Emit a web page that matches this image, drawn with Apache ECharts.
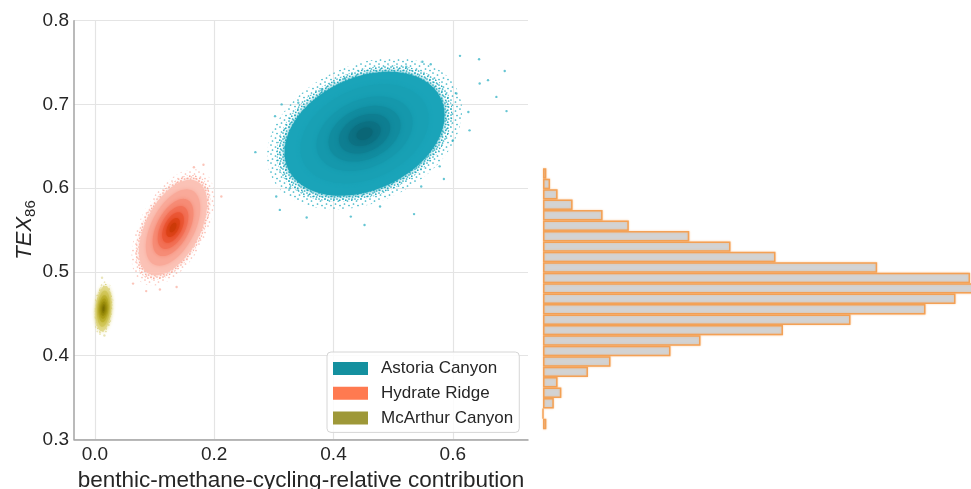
<!DOCTYPE html>
<html>
<head>
<meta charset="utf-8">
<script src="https://cdn.jsdelivr.net/npm/echarts@6/dist/echarts.min.js"></script>
<style>
  html, body { margin: 0; padding: 0; background: #ffffff; }
  #chart { width: 971px; height: 489px; }
</style>
</head>
<body>
<div id="chart"></div>
<script>
// ---- data -------------------------------------------------------------
const sites = ['Astoria Canyon', 'Hydrate Ridge', 'McArthur Canyon'];

// centre of each posterior cloud (relative contribution, TEX86)
const centreX = [0.452, 0.131, 0.0145];
const centreY = [0.665, 0.553, 0.456];
// spread of the dense body of each cloud and its x/y correlation
const spreadX = [0.134, 0.057, 0.0135];
const spreadY = [0.074, 0.057, 0.027];
const correlation = [0.30, 0.50, 0.20];
// density contour levels, relative to the dense body (outer rim -> core)
const contourLevels = [1.22, 1.10, 1.00, 0.80, 0.60, 0.45, 0.32, 0.20, 0.10];

// isolated samples outside the dense clouds
const astoriaStrayX = [0.269, 0.302, 0.313, 0.612, 0.644, 0.687, 0.690, 0.659, 0.626, 0.628, 0.585, 0.535, 0.355, 0.310, 0.563, 0.549, 0.522, 0.578, 0.600, 0.645, 0.673, 0.606, 0.419, 0.380, 0.341, 0.327, 0.304, 0.429, 0.478, 0.547, 0.452];
const astoriaStrayY = [0.643, 0.686, 0.700, 0.758, 0.754, 0.740, 0.692, 0.729, 0.691, 0.669, 0.611, 0.569, 0.565, 0.574, 0.748, 0.751, 0.745, 0.626, 0.657, 0.725, 0.709, 0.713, 0.731, 0.717, 0.702, 0.600, 0.590, 0.566, 0.578, 0.602, 0.556];
const hydrateStrayX = [0.212, 0.064, 0.086, 0.166, 0.137, 0.109, 0.182];
const hydrateStrayY = [0.590, 0.486, 0.477, 0.625, 0.482, 0.479, 0.628];
const mcarthurStrayX = [0.012, 0.016];
const mcarthurStrayY = [0.493, 0.424];

const xTicks = [0.0, 0.2, 0.4, 0.6];

// marginal histogram (top bin first)
const histBins = ['1', '2', '3', '4', '5', '6', '7', '8', '9', '10', '11', '12', '13',
                  '14', '15', '16', '17', '18', '19', '20', '21', '22', '23', '24', '25'];
const histCounts = [8, 17, 35, 71, 143, 206, 351, 450, 558, 802, 1025, 1045, 990,
                    918, 738, 576, 378, 306, 162, 108, 35, 44, 26, 0, 8];

// ---- styles ------------------------------------------------------------
const FONT = '"Liberation Sans", Arial, Helvetica, sans-serif';
const TEXT = '#262626';
const siteColours = ['#14909f', '#ff7a50', '#9e9838'];
const strayColours = ['rgba(30,170,190,0.85)', 'rgba(248,150,130,0.7)', 'rgba(210,200,110,0.6)'];
const rimColours = [
  ['rgba(36,172,192,0.9)', 'rgba(28,166,186,0.95)'],
  ['rgba(250,170,155,0.75)', 'rgba(249,160,143,0.9)'],
  ['rgba(220,212,130,0.7)', 'rgba(214,205,110,0.85)']
];
const bodyColours = [
  ['#1aa4b9', '#18a0b4', '#1598ac', '#118c9f', '#0e7e91', '#0c7183', '#0a6676'],
  ['#fbc2b6', '#f9a999', '#f68c76', '#f27157', '#eb5736', '#dd4318', '#cc3a08'],
  ['#e2da8c', '#d2c75a', '#beb232', '#aea01a', '#9c8e0c', '#887c04', '#7a6e00']
];

// speckled texture for the thinly sampled rim of each cloud
function speckle(colour, size, dots) {
  const c = document.createElement('canvas');
  c.width = size; c.height = size;
  const g = c.getContext('2d');
  g.fillStyle = colour;
  dots.forEach(function (d) {
    g.beginPath(); g.arc(d[0], d[1], 0.85, 0, Math.PI * 2); g.fill();
  });
  return { image: c, repeat: 'repeat' };
}
const sparseDots = [[1, 1], [5.5, 3], [2.5, 6], [7, 7.5]];
const denseDots = [[1, 1], [3.8, 2.2], [1.8, 4.3], [4.6, 5]];
const RIM_COUNT = 2;

const fills = sites.map(function (s, i) {
  return [speckle(rimColours[i][0], 9, sparseDots), speckle(rimColours[i][1], 6, denseDots)]
    .concat(bodyColours[i]);
});

function ellipseRenderer(site) {
  const r = correlation[site];
  const q = Math.sqrt(1 - r * r);
  return function (params, api) {
    const k = api.value(2);
    const pts = [];
    for (let i = 0; i < 96; i++) {
      const t = i / 96 * Math.PI * 2;
      const c = Math.cos(t), s = Math.sin(t);
      pts.push(api.coord([
        api.value(0) + k * spreadX[site] * c,
        api.value(1) + k * spreadY[site] * (r * c + q * s)
      ]));
    }
    const fill = fills[site][params.dataIndex];
    const isRim = params.dataIndex < RIM_COUNT;
    return {
      type: 'polygon',
      shape: { points: pts },
      style: {
        fill: fill,
        stroke: null,
        shadowBlur: isRim ? 0 : 4,
        shadowColor: isRim ? 'transparent' : fill
      },
      silent: true
    };
  };
}

const strayX = [astoriaStrayX, hydrateStrayX, mcarthurStrayX];
const strayY = [astoriaStrayY, hydrateStrayY, mcarthurStrayY];

const series = [];
sites.forEach(function (name, i) {
  series.push({
    name: name,
    type: 'custom',
    xAxisIndex: 0, yAxisIndex: 0,
    renderItem: ellipseRenderer(i),
    itemStyle: { color: siteColours[i] },
    encode: { x: 0, y: 1 },
    data: contourLevels.map(function (k) { return [centreX[i], centreY[i], k]; }),
    z: 2
  });
});
sites.forEach(function (name, i) {
  series.push({
    name: name,
    type: 'scatter',
    xAxisIndex: 0, yAxisIndex: 0,
    symbolSize: 2.4,
    itemStyle: { color: strayColours[i] },
    silent: true,
    data: strayX[i].map(function (x, j) { return [x, strayY[i][j]]; }),
    z: 1
  });
});
series.push({
  type: 'bar',
  xAxisIndex: 1, yAxisIndex: 1,
  data: histCounts,
  barCategoryGap: '0%',
  silent: true,
  itemStyle: {
    color: '#d3d3d3',
    borderColor: 'rgba(243,155,75,0.9)',
    borderWidth: 1.5,
    shadowColor: 'rgba(250,175,100,0.55)',
    shadowBlur: 2
  }
});

const chart = echarts.init(document.getElementById('chart'), null, { renderer: 'canvas' });
chart.setOption({
  animation: false,
  backgroundColor: '#ffffff',
  textStyle: { fontFamily: FONT },
  grid: [
    { left: 74, right: 443, top: 20.7, bottom: 49.7, containLabel: false, outerBoundsMode: 'none' },
    { left: 543, top: 168.3, height: 261, width: 500, containLabel: false, outerBoundsMode: 'none' }
  ],
  xAxis: [
    {
      type: 'value', gridIndex: 0, min: -0.035, max: 0.726,
      name: 'benthic-methane-cycling-relative contribution',
      nameLocation: 'middle', nameGap: 21,
      nameTextStyle: { fontSize: 22.5, color: TEXT, fontFamily: FONT },
      axisLine: { show: true, onZero: false, lineStyle: { color: '#a3a3a3', width: 1.5 } },
      axisTick: { show: false, customValues: xTicks },
      axisLabel: {
        customValues: xTicks, fontSize: 19, color: TEXT, fontFamily: FONT, margin: 6,
        formatter: function (v) { return v.toFixed(1); }
      },
      splitLine: { show: true, lineStyle: { color: '#e4e4e4', width: 1.2 } }
    },
    { type: 'value', gridIndex: 1, min: 0, max: 1200, show: false }
  ],
  yAxis: [
    {
      type: 'value', gridIndex: 0, min: 0.3, max: 0.8, interval: 0.1,
      name: '{i|TEX}{s|86}',
      nameLocation: 'middle', nameGap: 36, nameRotate: 90,
      nameTextStyle: {
        color: TEXT, fontFamily: FONT,
        rich: {
          i: { fontStyle: 'italic', fontSize: 22, color: TEXT, fontFamily: FONT, lineHeight: 26 },
          s: { fontSize: 15, color: TEXT, fontFamily: FONT, lineHeight: 16, verticalAlign: 'bottom' }
        }
      },
      axisLine: { show: true, onZero: false, lineStyle: { color: '#a3a3a3', width: 1.5 } },
      axisTick: { show: false },
      axisLabel: {
        fontSize: 19, color: TEXT, fontFamily: FONT, margin: 5,
        formatter: function (v) { return v.toFixed(1); }
      },
      splitLine: { show: true, lineStyle: { color: '#e4e4e4', width: 1.2 } }
    },
    { type: 'category', gridIndex: 1, data: histBins, inverse: true, show: false }
  ],
  legend: {
    data: sites,
    orient: 'vertical',
    left: 327, top: 352,
    padding: [8, 6, 6, 6],
    itemWidth: 35, itemHeight: 13, itemGap: 7.7,
    icon: 'rect',
    selectedMode: false,
    backgroundColor: 'rgba(255,255,255,0.85)',
    borderColor: '#d6d6d6', borderWidth: 1, borderRadius: 4,
    textStyle: { fontSize: 17, color: TEXT, fontFamily: FONT, padding: [0, 0, 0, 8] },
    z: 10
  },
  series: series
});
</script>
</body>
</html>
